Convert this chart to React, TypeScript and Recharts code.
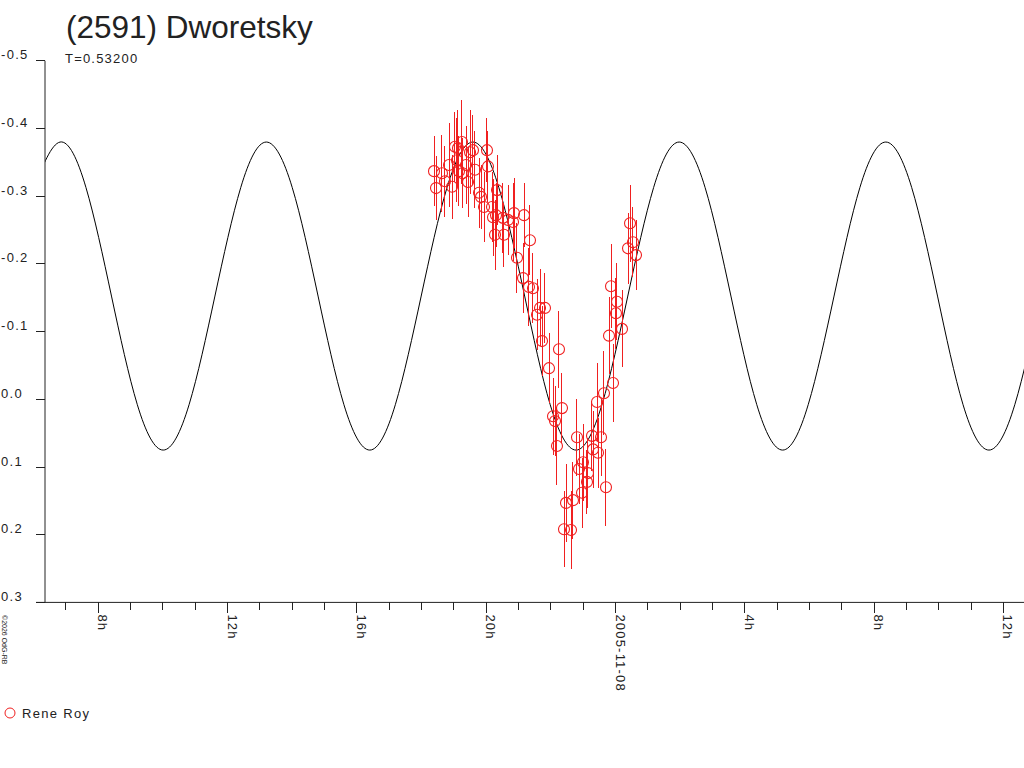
import React from 'react'
import {
  ComposedChart, Line, Scatter, ErrorBar, XAxis, YAxis
} from 'recharts'

// hours counted from 2005-11-07 00:00
const curveHours = [
  6.02, 6.82, 7.62, 8.41, 9.21, 10.01, 10.81, 11.61, 12.41, 13.2,
  14.0, 14.8, 15.6, 16.4, 17.19, 17.99, 18.79, 19.59, 20.39, 21.19,
  21.98, 22.78, 23.58, 24.38, 25.18, 25.97, 26.77, 27.57, 28.37, 29.17,
  29.96, 30.76, 31.56, 32.36, 33.16, 33.96, 34.75, 35.55, 36.35, 37.15,
]
const curveMags = [
  -0.313, -0.38, -0.313, -0.1525, 0.008, 0.075, 0.008, -0.1525, -0.313, -0.38,
  -0.313, -0.1525, 0.008, 0.075, 0.008, -0.1525, -0.313, -0.38, -0.313, -0.1525,
  0.008, 0.075, 0.008, -0.1525, -0.313, -0.38, -0.313, -0.1525, 0.008, 0.075,
  0.008, -0.1525, -0.313, -0.38, -0.313, -0.1525, 0.008, 0.075, 0.008, -0.1525,
]

const obsHours = [
  18.386, 18.448, 18.633, 18.726, 18.85, 18.943, 19.035, 19.097, 19.128, 19.159,
  19.252, 19.27, 19.376, 19.438, 19.5, 19.592, 19.654, 19.778, 19.84, 19.933,
  20.025, 20.056, 20.18, 20.211, 20.273, 20.304, 20.335, 20.52, 20.551, 20.675,
  20.83, 20.861, 20.953, 21.139, 21.17, 21.324, 21.355, 21.448, 21.572, 21.665,
  21.727, 21.819, 21.943, 22.067, 22.129, 22.19, 22.252, 22.345, 22.407, 22.469,
  22.624, 22.685, 22.809, 22.871, 22.964, 22.995, 23.118, 23.149, 23.273, 23.304,
  23.428, 23.459, 23.552, 23.644, 23.706, 23.799, 23.861, 23.923, 24.015, 24.046,
  24.201, 24.387, 24.449, 24.541, 24.634,
]
const obsMags = [
  -0.337, -0.312, -0.334, -0.322, -0.346, -0.314, -0.373, -0.353, -0.371, -0.337,
  -0.38, -0.334, -0.346, -0.321, -0.365, -0.368, -0.339, -0.305, -0.299, -0.284,
  -0.368, -0.344, -0.284, -0.269, -0.243, -0.272, -0.309, -0.268, -0.243, -0.265,
  -0.262, -0.275, -0.209, -0.179, -0.272, -0.166, -0.235, -0.164, -0.125, -0.135,
  -0.086, -0.135, -0.046, 0.025, 0.032, 0.069, -0.074, 0.013, 0.192, 0.153,
  0.193, 0.149, 0.056, 0.103, 0.138, 0.093, 0.122, 0.109, 0.054, 0.074,
  0.004, 0.079, 0.056, -0.009, 0.13, -0.094, -0.167, -0.024, -0.127, -0.144,
  -0.104, -0.223, -0.26, -0.232, -0.213,
]
const obsErrs = [
  0.052, 0.047, 0.057, 0.052, 0.062, 0.047, 0.052, 0.062, 0.057, 0.052,
  0.062, 0.052, 0.057, 0.052, 0.062, 0.052, 0.057, 0.052, 0.047, 0.052,
  0.047, 0.052, 0.052, 0.057, 0.052, 0.047, 0.052, 0.052, 0.047, 0.052,
  0.057, 0.052, 0.052, 0.052, 0.047, 0.057, 0.052, 0.052, 0.052, 0.057,
  0.052, 0.052, 0.052, 0.057, 0.052, 0.057, 0.057, 0.052, 0.056, 0.058,
  0.058, 0.057, 0.057, 0.052, 0.052, 0.057, 0.047, 0.052, 0.052, 0.057,
  0.057, 0.052, 0.057, 0.062, 0.057, 0.057, 0.062, 0.057, 0.052, 0.057,
  0.057, 0.052, 0.057, 0.052, 0.052,
]

const xTicks = [
  7, 8, 9, 10, 11, 12, 13, 14, 15, 16, 17, 18, 19, 20, 21, 22, 23, 24,
  25, 26, 27, 28, 29, 30, 31, 32, 33, 34, 35, 36,
]
const xLabels: Record<number, string> = {
  8: '8h', 12: '12h', 16: '16h', 20: '20h', 24: '2005-11-08', 28: '4h', 32: '8h', 36: '12h',
}
const yTicks = [-0.5, -0.4, -0.3, -0.2, -0.1, 0, 0.1, 0.2, 0.3]

const RED = '#f02020'
const INK = '#222'
const FONT = '"Liberation Sans", Arial, sans-serif'

const curve = curveHours.map((hour, i) => ({ hour, mag: curveMags[i] }))
const obs = obsHours.map((hour, i) => ({ hour, mag: obsMags[i], err: obsErrs[i] }))

function XTick(props: any) {
  const { x, y, payload } = props
  const label = xLabels[payload.value]
  const len = label ? 11 : 8
  return (
    <g>
      <line x1={x} x2={x} y1={y} y2={y + len} stroke={INK} shapeRendering="crispEdges" />
      {label && (
        <text
          x={x} y={y + 12} transform={`rotate(90, ${x}, ${y + 12})`}
          fontSize={13} letterSpacing={1.2} fill={INK} fontFamily={FONT}
        >{label}</text>
      )}
    </g>
  )
}

function YTick(props: any) {
  const { x, y, payload } = props
  return (
    <g>
      <line x1={x - 9} x2={x} y1={y} y2={y} stroke={INK} shapeRendering="crispEdges" />
      <text x={1} y={y - 1.5} fontSize={13} letterSpacing={1.3} fill={INK} fontFamily={FONT}>
        {payload.value.toFixed(1)}
      </text>
    </g>
  )
}

function Ring(props: any) {
  const { cx, cy } = props
  return <circle cx={cx} cy={cy} r={5.5} fill="none" stroke={RED} strokeWidth={1.1} />
}

export default function App() {
  return (
    <div style={{ position: 'absolute', left: 0, top: 0, width: 1024, height: 768, background: '#fff' }}>
      <ComposedChart
        width={1024} height={768}
        margin={{ top: 60.8, right: 0, left: 0, bottom: 65.6 }}
      >
        <XAxis
          type="number" dataKey="hour" domain={[6.354, 36.635]} ticks={xTicks}
          allowDataOverflow tickSize={0} tickMargin={0} tickLine={false}
          tick={<XTick />} height={100} stroke={INK} interval={0}
        />
        <YAxis
          type="number" dataKey="mag" domain={[-0.5, 0.3]} reversed ticks={yTicks}
          allowDataOverflow tickSize={0} tickMargin={0} tickLine={false}
          tick={<YTick />} width={45} stroke={INK} interval={0}
        />
        <Line
          data={curve} dataKey="mag" type="natural" stroke="#000" strokeWidth={1}
          dot={false} isAnimationActive={false}
        />
        <Scatter data={obs} dataKey="mag" shape={<Ring />} isAnimationActive={false}>
          <ErrorBar
            dataKey="err" direction="y" width={0} stroke={RED} strokeWidth={1}
            shapeRendering="crispEdges" isAnimationActive={false}
          />
        </Scatter>
      </ComposedChart>
      <svg width={1024} height={768} style={{ position: 'absolute', left: 0, top: 0, pointerEvents: 'none' }}>
        <line x1={36} x2={45} y1={602.4} y2={602.4} stroke={INK} />
        <text x={66} y={38} fontSize={31.5} fill={INK} fontFamily={FONT}>(2591) Dworetsky</text>
        <text x={65} y={63} fontSize={13} letterSpacing={1.2} fill={INK} fontFamily={FONT}>T=0.53200</text>
        <text x={2} y={615} transform="rotate(90, 2, 615)" fontSize={7} fill={INK} fontFamily={FONT}>©2026 OdG-RB</text>
        <circle cx={10} cy={713} r={5} fill="none" stroke={RED} />
        <text x={22} y={718} fontSize={13} letterSpacing={1.3} fill={INK} fontFamily={FONT}>Rene Roy</text>
      </svg>
    </div>
  )
}
